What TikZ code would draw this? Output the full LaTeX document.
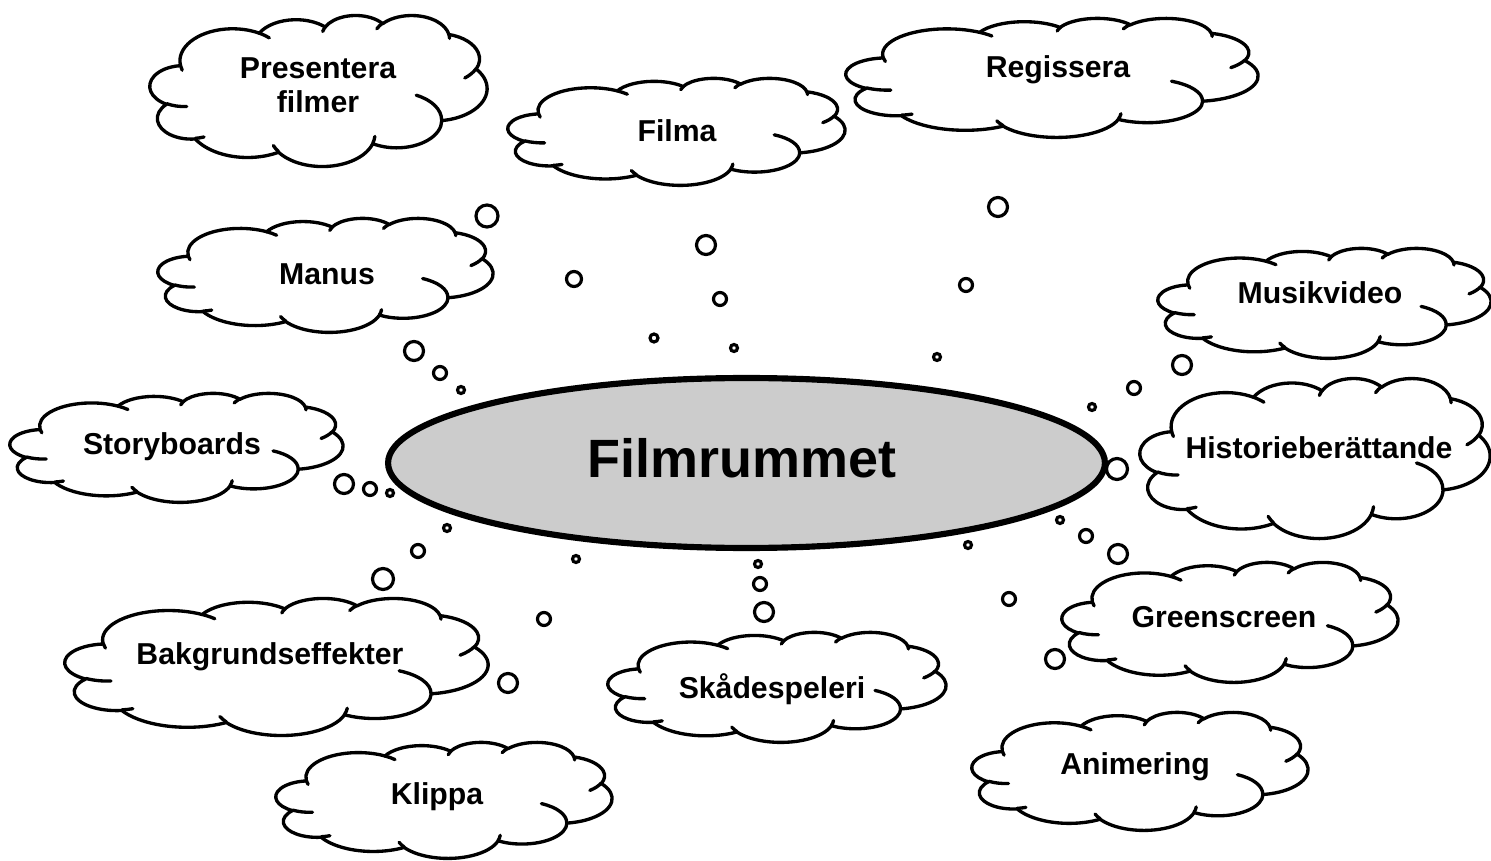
\documentclass[tikz,border=0pt]{standalone}
\usepackage{fontspec}
\setmainfont{Liberation Sans}
\usetikzlibrary{shapes.geometric}
\newcommand\varc[4]{arc[x radius=#1, y radius=#2, start angle={atan2(#1*sin(#3),#2*cos(#3))}, delta angle={atan2(#1*sin(#3+#4),#2*cos(#3+#4)) - atan2(#1*sin(#3),#2*cos(#3)) - 360*round((atan2(#1*sin(#3+#4),#2*cos(#3+#4)) - atan2(#1*sin(#3),#2*cos(#3)) - (#4))/360)}]}
\newcommand\cloudoutline{(3.9,14.37)
 \varc{6.753}{9.19}{-190.4875}{123.7805}
 \varc{5.333}{7.267}{-144.1024}{89.9452}
 \varc{4.365}{5.945}{-145.8079}{99.7230}
 \varc{4.857}{6.595}{-130.9861}{117.2417}
 \varc{5.333}{7.273}{-78.7089}{109.0269}
 \varc{6.775}{9.22}{-46.2673}{130.2690}
 \varc{5.785}{7.867}{0.6250}{114.0333}
 \varc{6.752}{9.215}{22.4516}{115.1726}
 \varc{7.72}{10.543}{66.2426}{75.7110}
 \varc{4.36}{5.918}{-274.9421}{146.7356}
 \varc{4.345}{5.945}{-246.8285}{152.5189} -- cycle}
\newcommand\cloudinner{
 (4.693,26.177) \varc{4.345}{5.945}{86.7420}{26.4295}
 (6.928,34.899) \varc{4.36}{5.918}{73.6105}{11.4475}
 (16.478,39.09) \varc{6.752}{9.215}{137.6242}{14.0811}
 (28.827,34.751) \varc{6.752}{9.215}{6.4533}{15.9984}
 (34.129,22.954) \varc{5.785}{7.867}{-70.2924}{70.9174}
 (41.798,15.354) \varc{5.333}{7.273}{30.3180}{27.7515}
 (38.324,5.426) \varc{4.857}{6.595}{-13.7443}{14.8589}
 (29.078,3.952) \varc{4.857}{6.595}{-149.1815}{18.1954}
 (22.141,4.72) \varc{4.365}{5.945}{-163.4943}{17.6864}
 (14.0,5.192) \varc{6.753}{9.19}{-66.7070}{12.3194}
 (4.127,15.789) \varc{6.753}{9.19}{157.6544}{11.8582}}
\newcommand\cloudat[4]{%
 \begin{scope}[shift={(#1,#2)}, xscale={(#3-#1)/43.2}, yscale={(#4-#2)/43.2}]
  \draw[cloudline, fill=white] \cloudoutline;
  \draw[cloudline] \cloudinner;
 \end{scope}}
\definecolor{hubgray}{HTML}{CCCCCC}
\tikzset{
 cloudline/.style={line width=1.9pt, line join=round, line cap=round},
 bubble/.style={draw, line width=1.8pt, fill=white},
 cloudtext/.style={font=\fontsize{17.2}{19.6}\selectfont\bfseries, align=center, inner sep=0pt},
 hub/.style={draw, ellipse, line width=3.5pt, fill=hubgray, minimum width=14.34cm, minimum height=3.4cm, inner sep=0pt},
 hubtext/.style={font=\fontsize{30.7}{36}\selectfont\bfseries, inner sep=0pt}
}
\begin{document}
\begin{tikzpicture}[x=0.02cm, y=-0.02cm]
\useasboundingbox[fill=white] (0,0) rectangle (1491,861);
% tail bubbles
\foreach \x/\y/\r in {487/216/11, 574/279/7.5, 654/338/4,
 706/245/9.5, 720/299/6.5, 734/348/3.5,
 998/207/9.5, 966/285/6.5, 937/357/3.5,
 414/351/9.5, 440/373/6.5, 461/390/3.5,
 1182/365/9.5, 1134/388/6.5, 1092/407/3.5,
 344/484/9.5, 370/489/6.5, 390/493/3.5,
 1117/469/10.5,
 447/528/3.5, 418/551/6.5, 383/579/10.5,
 576/559/3.5, 544/619/6.5, 508/683/9.5,
 758/564/3.5, 760/584/6.5, 764/612/9.5,
 968/545/3.5, 1009/599/6.5, 1055/659/9.5,
 1060/520/3.5, 1086/536/6.5, 1118/554/9.5}
 \draw[bubble] (\x,\y) circle (\r);
% hub
\node[hub] (hub) at (746.5,463) {};
\node[hubtext] (hubtitle) at (742,458) {Filmrummet};
% clouds
\cloudat{150}{15}{487}{166}
\node[cloudtext] (presentera) at (318,85) {Presentera\\filmer};
\cloudat{508}{78}{845}{185}
\node[cloudtext] (filma) at (677,131) {Filma};
\cloudat{846}{18}{1258}{137}
\node[cloudtext] (regissera) at (1058,70) {Regissera};
\cloudat{158}{218}{493}{332}
\node[cloudtext] (manus) at (327,274) {Manus};
\cloudat{1158}{248}{1491}{358}
\node[cloudtext] (musikvideo) at (1320,293) {Musikvideo};
\cloudat{10}{393}{343}{502}
\node[cloudtext] (storyboards) at (172,447) {Storyboards};
\cloudat{1140}{378}{1490}{538}
\node[cloudtext] (historie) at (1319,448) {Historieberättande};
\cloudat{1062}{562}{1398}{682}
\node[cloudtext] (greenscreen) at (1224,617) {Greenscreen};
\cloudat{65}{598}{488}{735}
\node[cloudtext] (bakgrund) at (270,657) {Bakgrundseffekter};
\cloudat{608}{632}{946}{742}
\node[cloudtext] (skade) at (772,689) {Skådespeleri};
\cloudat{972}{712}{1308}{830}
\node[cloudtext] (animering) at (1135,767) {Animering};
\cloudat{276}{742}{612}{858}
\node[cloudtext] (klippa) at (437,797) {Klippa};
\end{tikzpicture}
\end{document}
